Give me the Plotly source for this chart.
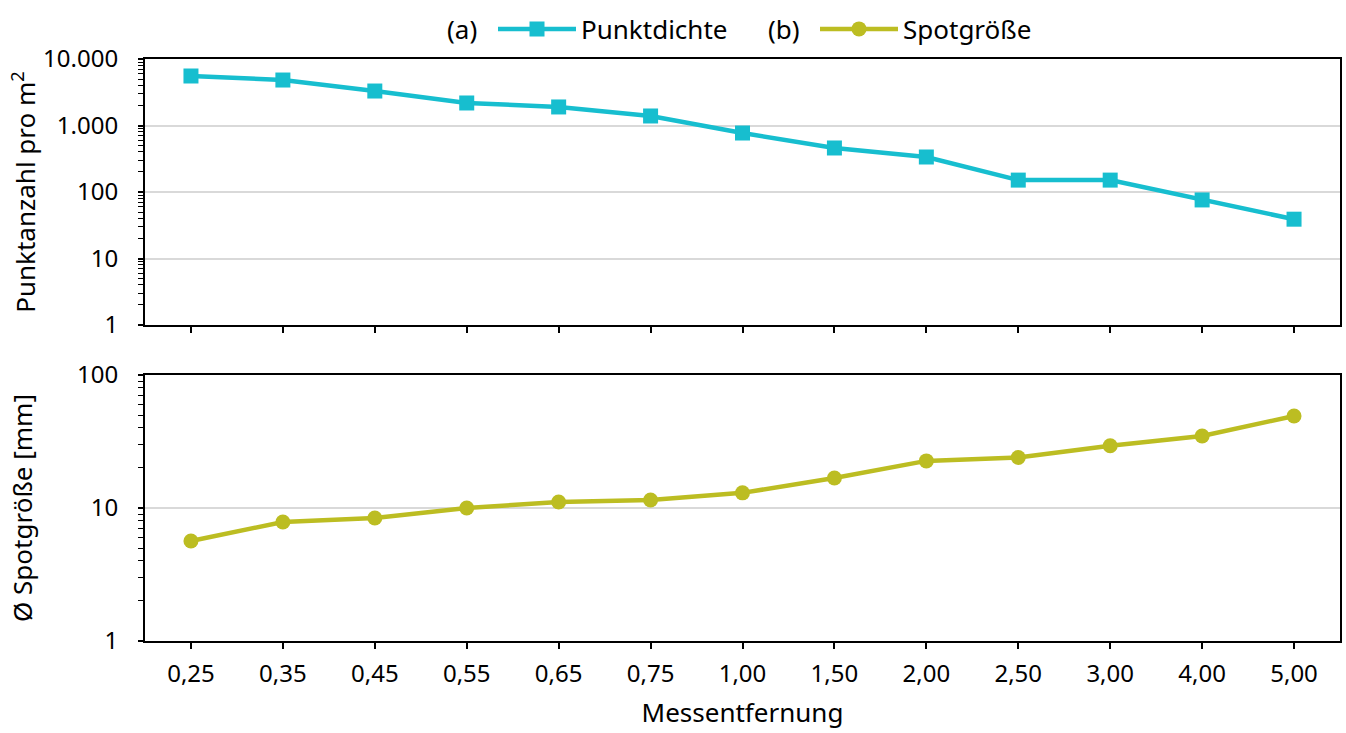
import plotly.graph_objects as go

# ---- data ----
categories = ["0,25", "0,35", "0,45", "0,55", "0,65", "0,75", "1,00",
              "1,50", "2,00", "2,50", "3,00", "4,00", "5,00"]
punktdichte = [5550, 4830, 3300, 2180, 1900, 1390, 771, 459, 336, 151, 151, 76, 39]
spotgroesse = [5.65, 7.85, 8.4, 10.0, 11.1, 11.5, 13.0, 16.8, 22.6, 24.0, 29.4, 34.8, 49.2]

top_tickvals = [1, 10, 100, 1000, 10000]
top_ticktext = ["1", "10", "100", "1.000", "10.000"]
bot_tickvals = [1, 10, 100]
bot_ticktext = ["1", "10", "100"]

CYAN = "#17becf"
OLIVE = "#bcbd22"
FONT = "Noto Sans"

W, H = 1346, 733
ML, MR, MT, MB = 145, 6, 59, 92
PW = W - ML - MR
PH = H - MT - MB

fig = go.Figure()
fig.add_trace(go.Scatter(
    x=categories, y=punktdichte, name="Punktdichte", mode="lines+markers",
    line=dict(color=CYAN, width=4.5), marker=dict(symbol="square", size=15, color=CYAN),
    xaxis="x", yaxis="y"))
fig.add_trace(go.Scatter(
    x=categories, y=spotgroesse, name="Spotgröße", mode="lines+markers",
    line=dict(color=OLIVE, width=4.5), marker=dict(symbol="circle", size=15, color=OLIVE),
    xaxis="x2", yaxis="y2"))

xcommon = dict(type="category", range=[-0.5, len(categories) - 0.5],
               showline=True, linecolor="black", linewidth=2, mirror=True,
               ticks="outside", ticklen=6, tickwidth=1.5, tickcolor="black",
               showgrid=False, zeroline=False, ticklabelstandoff=4,
               tickfont=dict(size=24, color="black", family=FONT))
ycommon = dict(type="log", showline=True, linecolor="black", linewidth=2, mirror=True,
               ticks="outside", ticklen=5, tickwidth=1.5, tickcolor="black",
               showgrid=True, gridcolor="#d9d9d9", gridwidth=1.5, zeroline=False,
               tickmode="array", ticklabelstandoff=15,
               minor=dict(ticks="outside", ticklen=5, tickwidth=1.2, tickcolor="black",
                          dtick="D1", showgrid=False),
               tickfont=dict(size=24, color="black", family=FONT))

top_dom = [(641 - 325) / PH, 1.0]
bot_dom = [0.0, (641 - 375) / PH]
LEG_Y = (641 - 29) / PH

fig.update_layout(
    width=W, height=H,
    margin=dict(l=ML, r=MR, t=MT, b=MB, autoexpand=False),
    paper_bgcolor="white", plot_bgcolor="white",
    font=dict(family=FONT, size=26, color="black"),
    xaxis=dict(xcommon, anchor="y", domain=[0, 1], showticklabels=False),
    xaxis2=dict(xcommon, anchor="y2", domain=[0, 1],
                title=dict(text="Messentfernung", font=dict(size=26), standoff=16)),
    yaxis=dict(ycommon, anchor="x", domain=top_dom, range=[0, 4],
               tickvals=top_tickvals, ticktext=top_ticktext,
               title=dict(text="Punktanzahl pro m<sup>2</sup>", font=dict(size=26), standoff=0)),
    yaxis2=dict(ycommon, anchor="x2", domain=bot_dom, range=[0, 2],
                tickvals=bot_tickvals, ticktext=bot_ticktext,
                title=dict(text="Ø Spotgröße [mm]", font=dict(size=26), standoff=37)),
    showlegend=True,
    legend=dict(orientation="h", xref="paper", yref="paper",
                x=(493 - ML) / PW, y=LEG_Y, xanchor="left", yanchor="middle",
                itemwidth=78, entrywidth=229, entrywidthmode="pixels",
                font=dict(size=26, family=FONT, color="black"),
                bgcolor="rgba(0,0,0,0)"),
    annotations=[
        dict(text="(a)", x=(462 - ML) / PW, y=LEG_Y, xref="paper", yref="paper",
             showarrow=False, xanchor="center", yanchor="middle", font=dict(size=26)),
        dict(text="(b)", x=(784 - ML) / PW, y=LEG_Y, xref="paper", yref="paper",
             showarrow=False, xanchor="center", yanchor="middle", font=dict(size=26)),
    ],
)

fig.write_html("out.html")
